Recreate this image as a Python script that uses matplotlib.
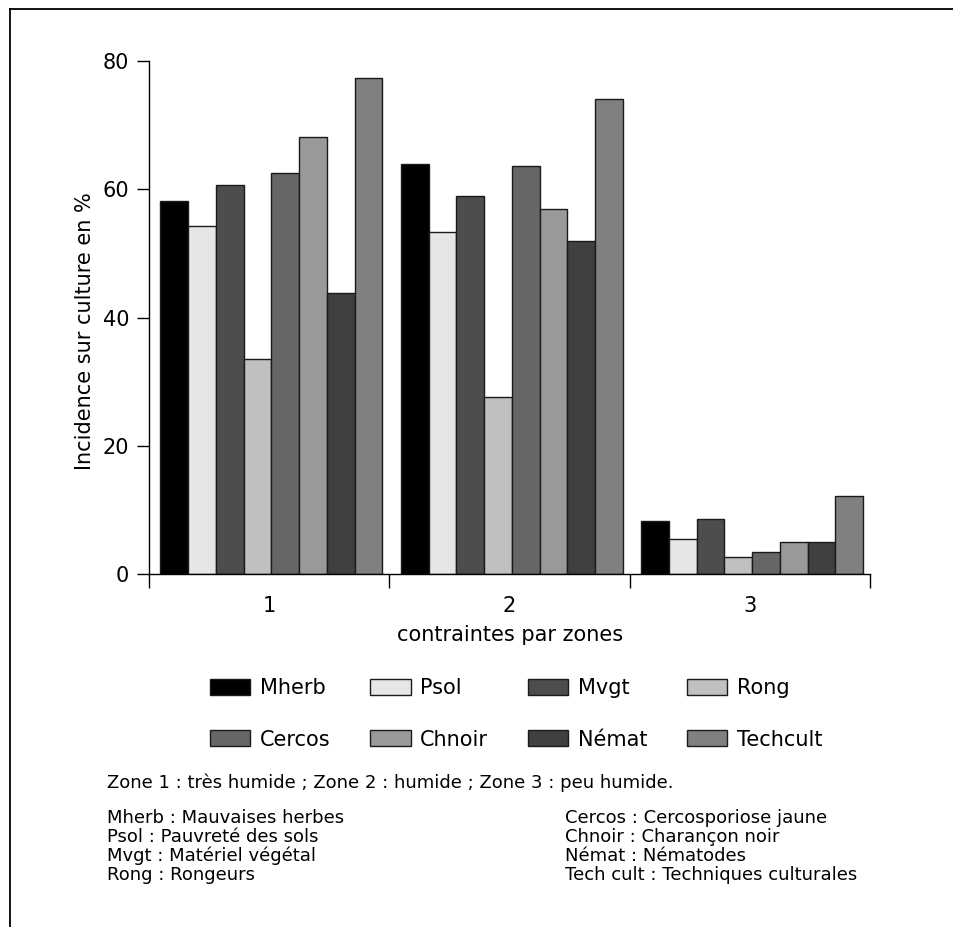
import numpy as np
import matplotlib.pyplot as plt
from matplotlib.lines import Line2D

plt.rcParams['font.family'] = ['DejaVu Sans']

zones = ["1", "2", "3"]
series = ["Mherb", "Psol", "Mvgt", "Rong", "Cercos", "Chnoir", "Némat", "Techcult"]
colors = ["#000000", "#e6e6e6", "#4d4d4d", "#c0c0c0", "#666666", "#999999", "#404040", "#808080"]
values = [
    [58.1, 64.0, 8.3],   # Mherb
    [54.2, 53.3, 5.5],   # Psol
    [60.6, 59.0, 8.5],   # Mvgt
    [33.6, 27.6, 2.7],   # Rong
    [62.6, 63.6, 3.5],   # Cercos
    [68.1, 56.9, 5.0],   # Chnoir
    [43.8, 51.9, 5.0],   # Némat
    [77.4, 74.0, 12.2],  # Techcult
]
yticks = [0, 20, 40, 60, 80]

notes_zone = "Zone 1 : très humide ; Zone 2 : humide ; Zone 3 : peu humide."
notes_left = ["Mherb : Mauvaises herbes", "Psol : Pauvreté des sols",
              "Mvgt : Matériel végétal", "Rong : Rongeurs"]
notes_right = ["Cercos : Cercosporiose jaune", "Chnoir : Charançon noir",
               "Némat : Nématodes", "Tech cult : Techniques culturales"]

W, H = 954, 927
fs = 15
fig = plt.figure(figsize=(W / 100, H / 100), dpi=100)
ax = fig.add_axes([148.7 / W, 1 - 574 / H, (870 - 148.7) / W, (574 - 61) / H])

x = np.arange(len(zones))
w = 0.1154
handles = []
for i, (name, col) in enumerate(zip(series, colors)):
    b = ax.bar(x + (i - 3.5) * w + 0.01, values[i], width=w, color=col,
               edgecolor="#1a1a1a", linewidth=1.0, label=name)
    handles.append(b)

ax.set_xlim(-0.5, 2.5)
ax.set_ylim(0, 80)
ax.set_yticks(yticks)
ax.set_xticks(x)
ax.set_xticklabels(zones)
ax.set_xticks([-0.5, 0.5, 1.5, 2.5], minor=True)
ax.tick_params(axis="x", which="major", length=0, pad=16, labelsize=fs)
ax.tick_params(axis="x", which="minor", length=10, width=1, direction="out")
ax.tick_params(axis="y", length=9, width=1, pad=5, labelsize=fs)
for s in ["top", "right"]:
    ax.spines[s].set_visible(False)
for s in ["left", "bottom"]:
    ax.spines[s].set_linewidth(1)

fig.text(85 / W, 1 - 331 / H, "Incidence sur culture en %", rotation=90,
         ha="center", va="center", fontsize=fs)
fig.text(510 / W, 1 - 635 / H, "contraintes par zones", ha="center",
         va="center", fontsize=fs)

# legend filled column by column, so reorder to read row by row
order = [0, 4, 1, 5, 2, 6, 3, 7]
fig.legend([handles[k] for k in order], [series[k] for k in order],
           ncol=4, loc="center", bbox_to_anchor=(516 / W, 1 - 714 / H),
           frameon=False, fontsize=fs, handlelength=1.95, handleheight=0.8,
           handletextpad=0.45, columnspacing=1.9, labelspacing=1.5)

nfs = 13
fig.text(107 / W, 1 - 783 / H, notes_zone, ha="left", va="center", fontsize=nfs)
for j, (a, b) in enumerate(zip(notes_left, notes_right)):
    yy = 1 - (818 + 19 * j) / H
    fig.text(107 / W, yy, a, ha="left", va="center", fontsize=nfs)
    fig.text(565 / W, yy, b, ha="left", va="center", fontsize=nfs)

# outer frame (top and left edges only visible)
fig.add_artist(Line2D([10 / W, 1], [1 - 9 / H, 1 - 9 / H], color="black", lw=1.3))
fig.add_artist(Line2D([10 / W, 10 / W], [0, 1 - 9 / H], color="black", lw=1.3))

fig.savefig("out.png", dpi=100)
